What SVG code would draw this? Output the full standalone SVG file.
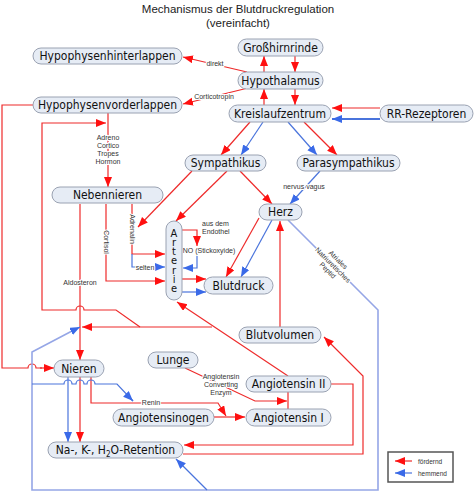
<svg xmlns="http://www.w3.org/2000/svg" width="474" height="492" viewBox="0 0 474 492">
<defs>
<marker id="ar" markerUnits="userSpaceOnUse" markerWidth="11" markerHeight="9" refX="10" refY="4" orient="auto"><path d="M0,0 L10,4 L0,8 z" fill="#ff1010"/></marker>
<marker id="ab" markerUnits="userSpaceOnUse" markerWidth="11" markerHeight="9" refX="10" refY="4" orient="auto"><path d="M0,0 L10,4 L0,8 z" fill="#3a6ae8"/></marker>
<style>
.n rect{fill:#e6ecf5;stroke:#9aa2b2;stroke-width:1}
.n text{font-family:"DejaVu Sans Condensed","DejaVu Sans",sans-serif;font-stretch:condensed;font-size:12px;fill:#111;text-anchor:middle}
.r{fill:none;stroke:#ee2a2a;stroke-width:1.2}
.ra{fill:none;stroke:#ee2a2a;stroke-width:1.2;marker-end:url(#ar)}
.b{fill:none;stroke:#4a74dc;stroke-width:1.2}
.ba{fill:none;stroke:#4a74dc;stroke-width:1.2;marker-end:url(#ab)}
.bl{fill:none;stroke:#95a6e6;stroke-width:1.6}
.l{font-family:"Liberation Sans",Arial,sans-serif;font-size:7px;fill:#333;text-anchor:middle;stroke:#fff;stroke-width:2.2;paint-order:stroke;stroke-linejoin:round}
.t{font-family:"Liberation Sans",Arial,sans-serif;font-size:11.5px;fill:#222;text-anchor:middle}
</style>
</defs>
<rect width="474" height="492" fill="#fff"/>
<text class="t" x="238" y="13">Mechanismus der Blutdruckregulation</text>
<text class="t" x="238" y="27">(vereinfacht)</text>

<g id="connectors">
<path class="ra" d="M247,72 L183,57"/>
<path class="ra" d="M264,72 L264,56"/>
<path class="ra" d="M295,56 L295,72"/>
<path class="ra" d="M248,88 L183,104"/>
<path class="ra" d="M264,105 L264,89"/>
<path class="ra" d="M295,89 L295,105"/>
<path class="ra" d="M380,108 L332,108"/>
<path fill="none" stroke="#4a74dc" stroke-width="2" marker-end="url(#ab)" d="M380,119 L332,119"/>
<path class="ra" d="M250,122 L221,155"/>
<path class="ba" d="M263,122 L241,155"/>
<path class="ba" d="M288,122 L317,155"/>
<path class="ra" d="M304,122 L337,155"/>
<path class="ra" d="M240,171 L272,204"/>
<path class="ba" d="M320,171 L290,204"/>
<path class="ra" d="M227,171 L176,221"/>
<path class="ra" d="M192,171 L138,227"/>
<path class="ra" d="M108,113 L108,187"/>
<path class="ra" d="M140,327 L116,310 L84,310 A4,4 0 0 0 76,310 L42,310 L42,123 L106,123"/>
<path class="ra" d="M288,376 L177,302"/>
<path class="ra" d="M212,327 L82,327"/>
<path class="ra" d="M80,204 L80,360"/>
<path class="r" d="M33,105 L2,105 L2,368 L28,368 A4,4 0 0 1 36,368 L42,368"/>
<path class="ra" d="M40,368 L54,368"/>
<path class="ba" d="M68,377 L68,442"/>
<path class="ra" d="M80,377 L80,442"/>
<path class="ra" d="M91,377 L91,403 L218,403 L226,416"/>
<path class="ra" d="M214,417 L245,417"/>
<path class="ra" d="M185,368 L255,401 L287,401"/>
<path class="r" d="M288,392 L288,409"/>
<path class="ra" d="M331,384 L353,384 L353,445 L184,445"/>
<path class="ra" d="M183,454 L363,454 L363,376 L324,337"/>
<path class="ra" d="M280,327 L280,221"/>
<path class="ra" d="M259,218 L226,277"/>
<path class="ba" d="M272,220 L241,277"/>
<path class="ra" d="M182,279 L206,279"/>
<path class="ba" d="M182,292 L206,292"/>
<path class="ra" d="M182,230 L197,230 L197,246"/>
<path class="ba" d="M197,255 L197,268 L183,268"/>
<path class="ra" d="M132,204 L132,254 L165,254"/>
<path class="ba" d="M132,254 L132,267 L165,267"/>
<path class="ra" d="M106,204 L106,281 L165,281"/>
<path class="bl" d="M288,220 L378,310 L378,490 L32,490 L32,352 L72,331"/>
<path class="ba" d="M72,331 L80,327"/>
<path class="ba" d="M207,490 L176,459"/>
<path class="b" d="M32,384 L64,384 A4,4 0 0 1 72,384 L76,384 A4,4 0 0 1 84,384 L87,384 A4,4 0 0 1 95,384 L117,384 L133,401"/>
<path class="ba" d="M126,394 L133,401"/>

<text class="l" x="215" y="66">direkt</text>
<text class="l" x="214" y="99">Corticotropin</text>
<text class="l" x="108" y="140">Adreno</text>
<text class="l" x="108" y="148">Cortico</text>
<text class="l" x="108" y="156">Tropes</text>
<text class="l" x="108" y="164">Hormon</text>
<text class="l" x="304" y="189">nervus vagus</text>
<text class="l" transform="translate(132,229) rotate(90)" y="2.5">Adrenalin</text>
<text class="l" transform="translate(106,242) rotate(90)" y="2.5">Cortisol</text>
<text class="l" x="145" y="269.5">selten</text>
<text class="l" x="80" y="285">Aldosteron</text>
<text class="l" x="202" y="226" style="text-anchor:start">aus dem</text>
<text class="l" x="202" y="234" style="text-anchor:start">Endothel</text>
<text class="l" x="209" y="253">NO (Stickoxyide)</text>
<text class="l" x="151" y="405">Renin</text>
<text class="l" x="221" y="379">Angiotensin</text>
<text class="l" x="221" y="387">Converting</text>
<text class="l" x="221" y="395">Enzym</text>
<g transform="translate(333,265) rotate(45)">
<text class="l" x="0" y="-5">Atriales</text>
<text class="l" x="0" y="2.5">Natriuretisches</text>
<text class="l" x="0" y="10">Peptid</text>
</g>
</g>

<g id="grosshirnrinde" class="n"><rect x="238" y="39" width="85" height="17" rx="8.5"/><text x="280.5" y="51.5">Großhirnrinde</text></g>
<g id="hinterlappen" class="n"><rect x="33" y="48" width="149" height="16" rx="8"/><text x="107.5" y="60">Hypophysenhinterlappen</text></g>
<g id="hypothalamus" class="n"><rect x="238" y="72" width="85" height="17" rx="8.5"/><text x="280.5" y="84.5">Hypothalamus</text></g>
<g id="vorderlappen" class="n"><rect x="33" y="97" width="149" height="16" rx="8"/><text x="107.5" y="109">Hypophysenvorderlappen</text></g>
<g id="kreislaufzentrum" class="n"><rect x="229" y="105" width="102" height="17" rx="8.5"/><text x="280" y="117.5">Kreislaufzentrum</text></g>
<g id="rr" class="n"><rect x="380" y="105" width="93" height="17" rx="8.5"/><text x="426.5" y="117.5">RR-Rezeptoren</text></g>
<g id="sympathikus" class="n"><rect x="185" y="155" width="81" height="16" rx="8"/><text x="225.5" y="167">Sympathikus</text></g>
<g id="parasympathikus" class="n"><rect x="297" y="155" width="103" height="16" rx="8"/><text x="348.5" y="167">Parasympathikus</text></g>
<g id="nebennieren" class="n"><rect x="52" y="187" width="111" height="16" rx="8"/><text x="107.5" y="199">Nebennieren</text></g>
<g id="herz" class="n"><rect x="259" y="204" width="43" height="16" rx="8"/><text x="280.5" y="216">Herz</text></g>
<g id="arterie" class="n"><rect x="166" y="221" width="16" height="79" rx="8"/><text x="174 174 174 174 174 174 174" y="236.5 245.8 255.1 264.4 273.7 283 292.3" style="font-size:11px">Arterie</text></g>
<g id="blutdruck" class="n"><rect x="204" y="277" width="69" height="17" rx="8.5"/><text x="238.5" y="289.5">Blutdruck</text></g>
<g id="blutvolumen" class="n"><rect x="239" y="327" width="82" height="16" rx="8"/><text x="280" y="339">Blutvolumen</text></g>
<g id="lunge" class="n"><rect x="148" y="352" width="50" height="16" rx="8"/><text x="173" y="364">Lunge</text></g>
<g id="nieren" class="n"><rect x="54" y="360" width="50" height="17" rx="8.5"/><text x="79" y="372.5">Nieren</text></g>
<g id="angiotensin2" class="n"><rect x="246" y="376" width="85" height="16" rx="8"/><text x="288.5" y="388">Angiotensin II</text></g>
<g id="angiotensin1" class="n"><rect x="246" y="409" width="85" height="17" rx="8.5"/><text x="288.5" y="421.5">Angiotensin I</text></g>
<g id="angiotensinogen" class="n"><rect x="113" y="409" width="101" height="17" rx="8.5"/><text x="163.5" y="421.5">Angiotensinogen</text></g>
<g id="retention" class="n"><rect x="48" y="442" width="135" height="16" rx="8"/><text x="115.5" y="454">Na-, K-, H<tspan font-size="8" dy="2.5">2</tspan><tspan dy="-2.5">O-Retention</tspan></text></g>

<g id="legend">
<rect x="388" y="452" width="65" height="30" fill="#fff" stroke="#555" stroke-width="1.5"/>
<path class="ra" d="M412,461 L395,461"/>
<path class="ba" d="M412,473 L395,473"/>
<text x="418" y="463.5" font-family="Liberation Sans, Arial, sans-serif" font-size="6.5" fill="#333">fördernd</text>
<text x="418" y="475.5" font-family="Liberation Sans, Arial, sans-serif" font-size="6.5" fill="#333">hemmend</text>
</g>
</svg>
